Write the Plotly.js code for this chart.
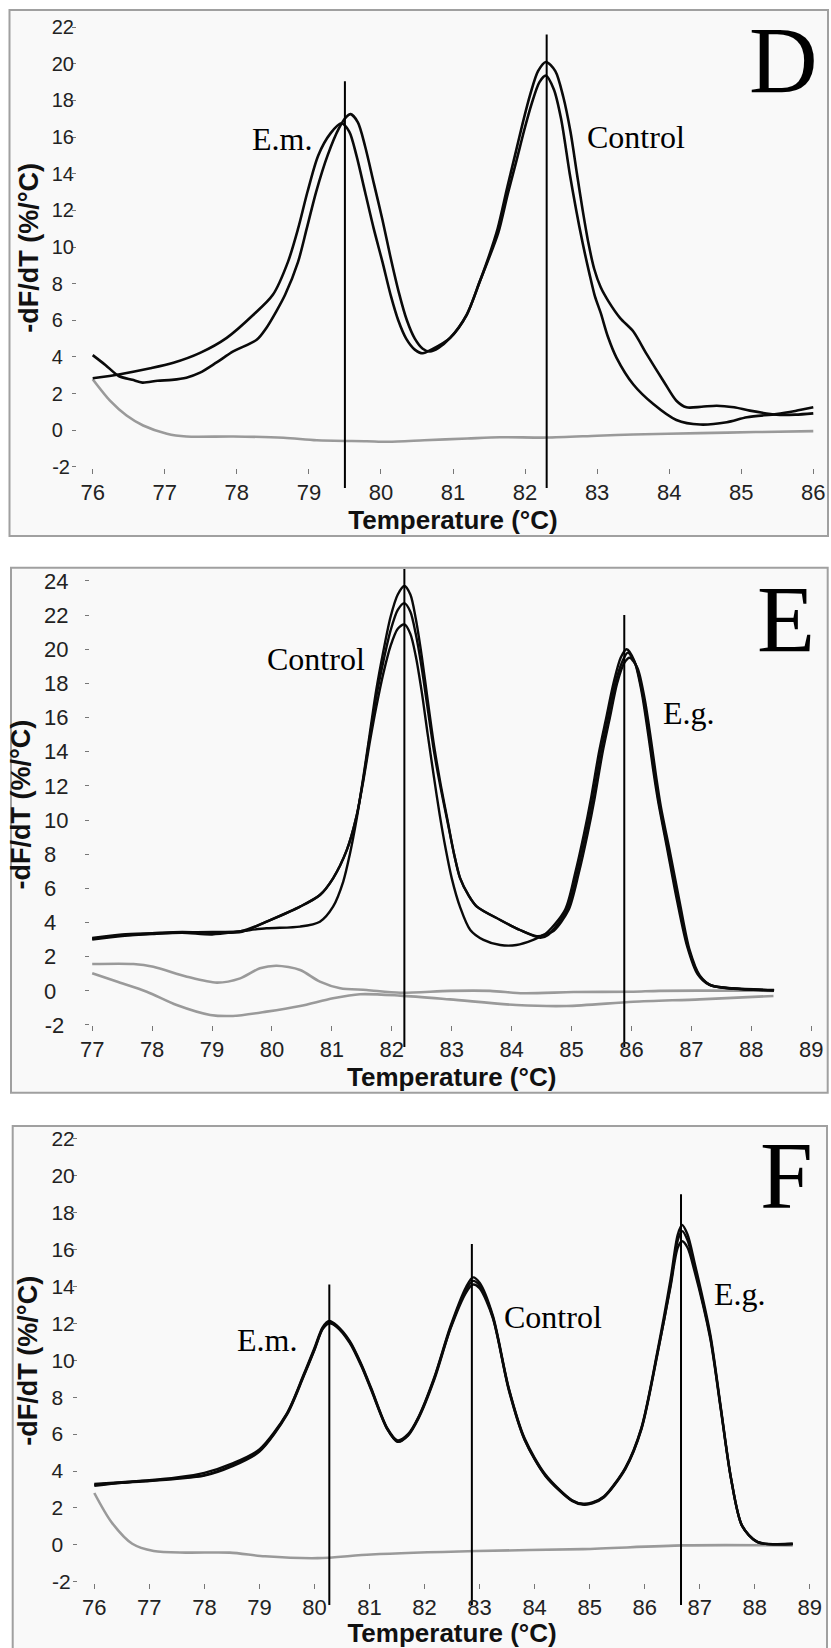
<!DOCTYPE html>
<html>
<head>
<meta charset="utf-8">
<script src="https://cdn.plot.ly/plotly-3.0.1.min.js"></script>
<style>html,body{margin:0;padding:0;background:#fff}#chart{width:831px;height:1648px}</style>
</head>
<body>
<div id="chart"></div>
<script>
// ---------- Panel D data ----------
const tempD_A = [76.0,76.18,76.36,76.55,76.69,76.9,77.1,77.3,77.49,77.72,77.95,78.28,78.41,78.55,78.67,78.85,78.97,79.1,79.26,79.42,79.52,79.58,79.68,79.78,79.9,80.02,80.13,80.25,80.36,80.47,80.58,80.68,80.8,80.96,81.19,81.37,81.49,81.62,81.75,81.86,81.97,82.07,82.18,82.29,82.42,82.53,82.63,82.72,82.8,82.88,82.96,83.05,83.16,83.32,83.5,83.69,83.92,84.1,84.24,84.45,84.66,84.9,85.12,85.49,85.75,86.0];
const dfD_A = [4.1,3.55,2.96,2.75,2.6,2.7,2.75,2.87,3.14,3.7,4.3,4.95,5.58,6.5,7.39,9.19,11.0,13.0,15.0,16.5,17.1,17.25,16.8,15.5,13.5,11.5,9.5,7.5,6.0,5.0,4.45,4.3,4.5,5.04,6.3,8.1,9.4,11.0,13.2,15.0,16.8,18.3,19.6,20.1,19.6,18.2,16.3,14.0,12.0,10.2,8.8,7.8,7.02,6.12,5.4,4.14,2.69,1.61,1.25,1.28,1.34,1.25,1.07,0.85,0.85,0.92];
const tempD_B = [76.0,76.38,76.8,77.12,77.49,77.86,78.23,78.5,78.71,78.85,78.98,79.13,79.3,79.45,79.56,79.66,79.78,79.9,80.02,80.14,80.24,80.35,80.47,80.58,80.7,80.96,81.19,81.37,81.49,81.63,81.76,81.88,81.99,82.09,82.2,82.29,82.4,82.5,82.62,82.71,82.8,82.89,82.97,83.05,83.15,83.27,83.5,83.78,84.1,84.43,84.8,85.08,85.49,85.75,86.0];
const dfD_B = [2.84,3.06,3.38,3.68,4.22,5.04,6.3,7.39,9.19,11.0,13.0,15.0,16.2,16.75,16.3,15.0,13.0,11.0,9.2,7.3,6.0,5.0,4.4,4.2,4.4,5.04,6.3,8.1,9.3,10.8,12.9,14.7,16.4,17.8,19.0,19.35,18.6,17.0,14.0,12.0,10.2,8.6,7.3,6.4,5.1,3.95,2.51,1.43,0.56,0.31,0.44,0.71,0.88,1.05,1.25];
const tempD_G = [76.0,76.24,76.47,76.7,77.03,77.3,77.95,78.65,79.11,79.8,80.1,80.6,81.2,81.65,82.3,83.0,83.5,84.43,85.2,86.0];
const dfD_G = [2.78,1.61,0.8,0.26,-0.19,-0.34,-0.34,-0.41,-0.55,-0.6,-0.63,-0.55,-0.45,-0.38,-0.4,-0.3,-0.23,-0.16,-0.1,-0.05];
const meltD = [79.5, 82.3];
const meltTopD = [19.05, 21.6];
const meltBottomD = -3.15;
const ticksXD = [76,77,78,79,80,81,82,83,84,85,86];
const ticksYD = [-2,0,2,4,6,8,10,12,14,16,18,20,22];

// ---------- Panel E data ----------
const tempE_1 = [77.0,77.5,78.0,78.5,79.0,79.5,79.91,80.47,80.8,81.02,81.19,81.3,81.41,81.52,81.63,81.74,81.86,81.98,82.1,82.21,82.31,82.4,82.5,82.6,82.71,82.82,82.93,83.04,83.14,83.28,83.42,83.81,84.14,84.42,84.55,84.89,85.06,85.21,85.32,85.46,85.58,85.7,85.82,85.92,86.05,86.17,86.28,86.36,86.44,86.6,86.76,86.93,87.1,87.3,87.7,88.38];
const dfE_1 = [3.0,3.2,3.32,3.4,3.3,3.5,3.66,3.76,4.05,4.93,6.4,8.0,10.0,12.4,15.0,17.6,19.9,21.9,23.2,23.7,23.2,21.8,19.6,17.0,14.25,12.0,10.0,8.0,6.6,5.6,4.93,4.15,3.56,3.2,3.3,4.73,6.88,9.22,11.17,14.0,16.0,18.0,19.5,20.0,19.3,17.5,15.0,13.0,11.2,8.25,5.3,2.6,1.0,0.35,0.15,0.05];
const tempE_2 = [77.0,77.5,78.0,78.5,79.0,79.5,79.91,80.47,80.8,81.02,81.25,81.41,81.52,81.63,81.74,81.86,81.98,82.1,82.21,82.31,82.4,82.5,82.6,82.71,82.82,82.93,83.04,83.14,83.28,83.42,83.81,84.14,84.48,84.6,84.92,85.09,85.24,85.35,85.49,85.61,85.73,85.85,85.94,86.07,86.19,86.3,86.38,86.46,86.62,86.78,86.95,87.12,87.32,87.7,88.38];
const dfE_2 = [3.05,3.25,3.35,3.42,3.45,3.5,4.05,4.93,5.61,6.59,8.25,10.2,12.3,14.8,17.2,19.3,21.1,22.3,22.7,22.2,20.9,18.9,16.5,13.9,11.8,9.9,8.0,6.6,5.6,4.93,4.15,3.56,3.1,3.25,4.73,6.88,9.22,11.17,14.0,16.0,18.0,19.3,19.8,19.1,17.3,14.8,12.8,11.0,8.1,5.2,2.5,0.95,0.33,0.13,0.03];
const tempE_3 = [77.0,77.5,78.0,78.5,79.0,79.5,79.91,80.47,80.8,81.02,81.25,81.41,81.52,81.63,81.74,81.86,81.98,82.1,82.21,82.31,82.4,82.5,82.6,82.7,82.8,82.9,83.0,83.14,83.31,83.53,83.81,84.08,84.36,84.53,84.7,84.95,85.12,85.27,85.38,85.52,85.64,85.76,85.88,85.97,86.1,86.22,86.33,86.41,86.49,86.65,86.81,86.97,87.14,87.34,87.7,88.38];
const dfE_3 = [3.1,3.3,3.38,3.45,3.4,3.45,4.05,4.93,5.61,6.59,8.25,10.2,12.2,14.5,16.6,18.6,20.2,21.2,21.45,20.9,19.6,17.5,15.0,12.6,10.3,8.3,6.6,4.9,3.56,2.98,2.68,2.68,2.98,3.27,3.5,4.73,6.88,9.22,11.17,14.0,16.0,18.0,19.2,19.5,18.9,17.1,14.6,12.6,10.8,8.0,5.1,2.4,0.9,0.3,0.12,0.02];
const tempE_G1 = [77.0,77.69,78.02,78.58,79.08,79.47,79.8,80.08,80.47,80.8,81.14,81.58,82.14,82.97,83.64,84.19,85.03,86.03,86.47,88.37];
const dfE_G1 = [1.57,1.57,1.41,0.83,0.48,0.73,1.32,1.47,1.22,0.54,0.15,0.05,-0.11,0.0,0.0,-0.14,-0.07,-0.05,0.0,0.0];
const tempE_G2 = [77.0,77.41,77.91,78.41,78.97,79.35,79.91,80.47,81.02,81.47,82.14,82.97,84.08,84.92,86.03,87.14,88.37];
const dfE_G2 = [1.03,0.54,-0.05,-0.83,-1.41,-1.47,-1.22,-0.89,-0.44,-0.2,-0.28,-0.5,-0.83,-0.89,-0.64,-0.5,-0.3];
const meltE = [82.21, 85.88];
const meltTopE = [24.7, 22.0];
const meltBottomE = -3.29;
const ticksXE = [77,78,79,80,81,82,83,84,85,86,87,88,89];
const ticksYE = [-2,0,2,4,6,8,10,12,14,16,18,20,22,24];

// ---------- Panel F data ----------
const tempF = [76.0,76.5,77.0,77.5,78.0,78.5,79.0,79.5,79.8,80.0,80.15,80.27,80.4,80.64,80.85,81.03,81.32,81.51,81.7,81.89,82.18,82.47,82.76,82.88,83.0,83.24,83.53,83.82,84.2,84.68,84.88,85.05,85.26,85.65,85.94,86.23,86.47,86.6,86.68,86.78,86.9,87.19,87.38,87.57,87.77,88.05,88.69];
const dfF_1 = [3.3,3.4,3.5,3.65,3.9,4.4,5.17,7.13,9.2,10.67,11.8,12.13,11.9,11.05,9.8,8.5,6.34,5.66,6.0,6.93,9.1,11.84,14.0,14.49,14.2,12.43,8.5,5.76,3.8,2.42,2.23,2.3,2.62,4.19,6.34,10.46,14.39,16.8,17.33,16.8,15.37,11.44,7.52,3.6,1.04,0.16,0.06];
const dfF_2 = [3.25,3.38,3.48,3.6,3.78,4.3,5.1,7.1,9.15,10.6,11.72,12.05,11.85,11.0,9.75,8.45,6.3,5.6,5.95,6.9,9.05,11.75,13.85,14.3,14.05,12.35,8.45,5.7,3.75,2.4,2.2,2.27,2.6,4.15,6.3,10.35,14.0,16.1,16.45,16.1,14.9,11.2,7.4,3.55,1.02,0.15,0.05];
const dfF_3 = [3.2,3.36,3.46,3.58,3.75,4.25,5.05,7.05,9.1,10.55,11.7,12.0,11.82,10.95,9.7,8.4,6.28,5.58,5.92,6.85,8.98,11.7,13.7,14.1,13.9,12.3,8.4,5.68,3.72,2.38,2.18,2.25,2.58,4.12,6.25,10.3,14.1,16.5,17.0,16.5,15.1,11.3,7.45,3.58,1.03,0.15,0.05];
const tempF_G = [76.0,76.31,76.69,77.08,77.66,78.46,79.1,80.06,81.03,82.95,84.88,86.71,88.69];
const dfF_G = [2.81,1.24,0.06,-0.33,-0.42,-0.42,-0.62,-0.72,-0.52,-0.33,-0.23,-0.03,-0.03];
const meltF = [80.27, 82.86, 86.66];
const meltTopF = [14.1, 16.3, 19.0];
const meltBottomF = -3.26;
const ticksXF = [76,77,78,79,80,81,82,83,84,85,86,87,88,89];
const ticksYF = [-2,0,2,4,6,8,10,12,14,16,18,20,22];

// ---------- drawing ----------
const W = 831, H = 1648;
const sans = 'Liberation Sans, Arial, sans-serif';
const serif = 'Liberation Serif, Times New Roman, serif';
const BLACK = '#0a0a0a', GRAY = '#9a9a9a';
const fx = px => px / W;
const fy = py => 1 - py / H;

function curve(x, y, xa, ya, color, width) {
  return {type: 'scatter', mode: 'lines', x: x, y: y, xaxis: xa, yaxis: ya,
    line: {color: color, width: width, shape: 'spline', smoothing: 0.8}, hoverinfo: 'skip'};
}
function melt(v, top, bottom, xa, ya) {
  return {type: 'scatter', mode: 'lines', x: [v, v], y: [bottom, top], xaxis: xa, yaxis: ya,
    line: {color: '#000', width: 2}, hoverinfo: 'skip'};
}
function ylabel(v) {
  const s = String(v);
  return (v >= 0 && v < 10) ? s + '\u2007' : (v < 0 ? s + '\u2009' : s);
}

const traces = [];
// D
traces.push(curve(tempD_G, dfD_G, 'x', 'y', GRAY, 2.6));
traces.push(curve(tempD_A, dfD_A, 'x', 'y', BLACK, 2.6));
traces.push(curve(tempD_B, dfD_B, 'x', 'y', BLACK, 2.6));
meltD.forEach((v, i) => traces.push(melt(v, meltTopD[i], meltBottomD, 'x', 'y')));
// E
traces.push(curve(tempE_G1, dfE_G1, 'x2', 'y2', GRAY, 2.6));
traces.push(curve(tempE_G2, dfE_G2, 'x2', 'y2', GRAY, 2.6));
traces.push(curve(tempE_1, dfE_1, 'x2', 'y2', BLACK, 2.4));
traces.push(curve(tempE_2, dfE_2, 'x2', 'y2', BLACK, 2.4));
traces.push(curve(tempE_3, dfE_3, 'x2', 'y2', BLACK, 2.4));
meltE.forEach((v, i) => traces.push(melt(v, meltTopE[i], meltBottomE, 'x2', 'y2')));
// F
traces.push(curve(tempF_G, dfF_G, 'x3', 'y3', GRAY, 2.6));
traces.push(curve(tempF, dfF_1, 'x3', 'y3', BLACK, 2.4));
traces.push(curve(tempF, dfF_2, 'x3', 'y3', BLACK, 2.4));
traces.push(curve(tempF, dfF_3, 'x3', 'y3', BLACK, 2.4));
meltF.forEach((v, i) => traces.push(melt(v, meltTopF[i], meltBottomF, 'x3', 'y3')));

function xAxis(domain, range, pos, ticks, tfs) {
  return {domain: domain, range: range, anchor: 'free', position: pos,
    tickmode: 'array', tickvals: ticks, ticktext: ticks.map(String),
    ticks: 'outside', ticklen: 5, tickwidth: 1, tickcolor: '#777',
    showline: false, zeroline: false, showgrid: false, fixedrange: true,
    tickfont: {family: sans, size: tfs, color: '#222'},
    title: {text: '<b>Temperature (°C)</b>', font: {family: sans, size: 26, color: '#111'}, standoff: 5}};
}
function yAxis(domain, range, pos, ticks, tfs, standoff) {
  return {domain: domain, range: range, anchor: 'free', position: pos,
    tickmode: 'array', tickvals: ticks, ticktext: ticks.map(ylabel),
    ticks: 'outside', ticklen: 4, tickwidth: 1, tickcolor: '#777',
    ticklabelstandoff: standoff,
    showline: false, zeroline: false, showgrid: false, fixedrange: true,
    tickfont: {family: sans, size: tfs, color: '#222'},
    title: {text: '<b>-dF/dT (%/°C)</b>', font: {family: sans, size: 27, color: '#111'}, standoff: 4}};
}

function frame(x0, y0, x1, y1) {
  return {type: 'rect', xref: 'paper', yref: 'paper', x0: fx(x0), y0: fy(y1), x1: fx(x1), y1: fy(y0),
    line: {color: '#a0a0a0', width: 2}, fillcolor: '#f9f9f9', layer: 'below'};
}

function letter(t, px, py) {
  return {text: t, xref: 'paper', yref: 'paper', x: fx(px), y: fy(py), xanchor: 'center', yanchor: 'middle',
    showarrow: false, font: {family: serif, size: 95, color: '#000'}};
}
function tag(t, x, y, xa, ya) {
  return {text: t, xref: xa, yref: ya, x: x, y: y, xanchor: 'left', yanchor: 'middle',
    showarrow: false, font: {family: serif, size: 32, color: '#000'}};
}

const layout = {
  width: W, height: H,
  margin: {l: 0, r: 0, t: 0, b: 0, pad: 0},
  paper_bgcolor: '#ffffff', plot_bgcolor: 'rgba(0,0,0,0)',
  showlegend: false, hovermode: false,
  font: {family: sans, color: '#222'},
  xaxis: xAxis([fx(85.49), fx(820.5)], [75.9, 86.1], fy(468), ticksXD, 22),
  yaxis: yAxis([fy(490.7), fy(5.13)], [-3.3, 23.2], fx(76), ticksYD, 20, -6),
  xaxis2: xAxis([fx(86.21), fx(817.2)], [76.9, 89.1], fy(1025), ticksXE, 22),
  yaxis2: yAxis([fy(1048.9), fy(560.4)], [-3.4, 25.2], fx(89), ticksYE, 22, 12),
  xaxis3: xAxis([fx(88.8), fx(815.3)], [75.9, 89.1], fy(1583), ticksXF, 22),
  yaxis3: yAxis([fy(1606.7), fy(1114.8)], [-3.35, 23.3], fx(77), ticksYF, 21, -6),
  shapes: [
    frame(9.5, 10, 828, 536),
    frame(11, 567.7, 827.7, 1092.7),
    frame(12.7, 1126, 827, 1660)
  ],
  annotations: [
    letter('D', 783, 61), letter('E', 786, 620), letter('F', 786, 1176),
    tag('E.m.', 78.18, 15.9, 'x', 'y'), tag('Control', 82.83, 16.0, 'x', 'y'),
    tag('Control', 79.88, 19.4, 'x2', 'y2'), tag('E.g.', 86.49, 16.27, 'x2', 'y2'),
    tag('E.m.', 78.56, 11.1, 'x3', 'y3'), tag('Control', 83.41, 12.34, 'x3', 'y3'), tag('E.g.', 87.22, 13.59, 'x3', 'y3')
  ]
};

Plotly.newPlot('chart', traces, layout, {staticPlot: true, displayModeBar: false});
</script>
</body>
</html>
